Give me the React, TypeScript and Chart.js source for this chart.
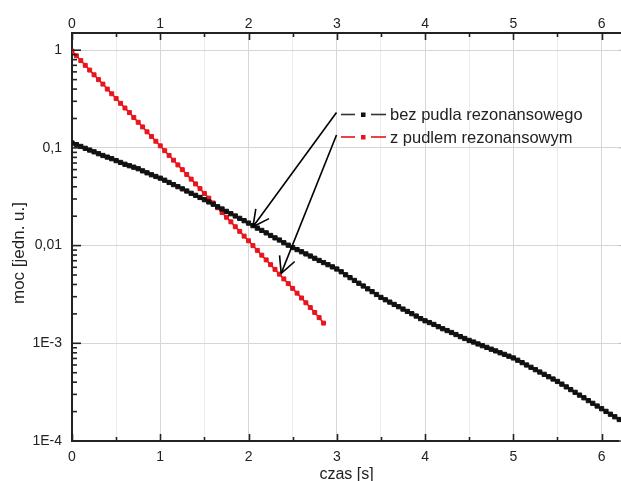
import React, { useEffect, useRef } from 'react';
import { Chart, registerables } from 'chart.js';

Chart.register(...registerables);

// ---- data ----
const timeStep = 0.05; // sampling interval [s]

// bez pudla rezonansowego (black), t = 0 .. 6.2 s
const blackValues = [
  0.1122, 0.108, 0.1035, 0.099, 0.095, 0.0912, 0.0872, 0.0836, 0.0805, 0.0775,
  0.0741, 0.071, 0.068, 0.0657, 0.0635, 0.0612, 0.0582, 0.0556, 0.0531, 0.051,
  0.049, 0.0467, 0.0443, 0.0421, 0.0401, 0.0381, 0.0362, 0.0343, 0.0327, 0.0311,
  0.0295, 0.028, 0.0265, 0.025, 0.0237, 0.0224, 0.0212, 0.0201, 0.019, 0.018,
  0.017, 0.016, 0.0151, 0.0143, 0.0135, 0.0127, 0.012, 0.0114, 0.0107, 0.0101,
  0.00955, 0.0091, 0.00865, 0.00822, 0.00782, 0.00742, 0.00705, 0.0067, 0.00638, 0.00606,
  0.00576, 0.0054, 0.00503, 0.0047, 0.0044, 0.00412, 0.00386, 0.00361, 0.00338, 0.00316,
  0.00295, 0.00279, 0.00264, 0.0025, 0.00237, 0.00224, 0.00212, 0.00201, 0.0019, 0.00179,
  0.0017, 0.00163, 0.00156, 0.00148, 0.00141, 0.00135, 0.00129, 0.00123, 0.00117, 0.00112,
  0.00107, 0.00103, 0.000985, 0.000945, 0.000908, 0.00087, 0.000836, 0.0008, 0.00077, 0.000738,
  0.000708, 0.000671, 0.000634, 0.0006, 0.000568, 0.000537, 0.000508, 0.000481, 0.000455, 0.000431,
  0.000407, 0.000382, 0.000358, 0.000336, 0.000315, 0.000295, 0.000277, 0.000259, 0.000243, 0.000228,
  0.000214, 0.000201, 0.000188, 0.000177, 0.000166,
];

// z pudlem rezonansowym (red), t = 0 .. 2.85 s
const redValues = [
  0.98, 0.876, 0.783, 0.7, 0.626, 0.56, 0.5, 0.45, 0.4, 0.358,
  0.32, 0.286, 0.256, 0.23, 0.205, 0.183, 0.164, 0.146, 0.131, 0.117,
  0.105, 0.0937, 0.0838, 0.0749, 0.067, 0.0599, 0.0535, 0.0479, 0.0428, 0.0383,
  0.0342, 0.0306, 0.0273, 0.0244, 0.0218, 0.0195, 0.0175, 0.0156, 0.014, 0.0125,
  0.0112, 0.01, 0.00893, 0.00798, 0.00714, 0.00638, 0.00571, 0.0051, 0.00456, 0.00408,
  0.00365, 0.00326, 0.00291, 0.0026, 0.00232, 0.00207, 0.00183, 0.00161,
];

const seriesNames = ['bez pudla rezonansowego', 'z pudlem rezonansowym'];
const seriesColors = ['#111111', '#e8141c'];

const xMin = 0;
const xMax = 6.22; // visible part of the axis (picture is cropped on the right)
const xFrameMax = 6.3; // where the (cropped) right frame of the plot lies
const xGridValues = [0, 0.5, 1, 1.5, 2, 2.5, 3, 3.5, 4, 4.5, 5, 5.5, 6];
const yMin = 1e-4;
const yMax = 1.5;
const yTickValues = [1, 0.1, 0.01, 1e-3, 1e-4];
const yTickLabels = ['1', '0,1', '0,01', '1E-3', '1E-4'];
const yMinorMult = [2, 3, 4, 5, 6, 7, 8, 9];

const xTitle = 'czas [s]';
const yTitle = 'moc [jedn. u.]';

// annotation arrows: tip positions in data coordinates
const arrowTips = [
  { x: 2.05, y: 0.0156 },
  { x: 2.37, y: 0.0052 },
];

const FONT = "'Liberation Sans', Arial, Helvetica, sans-serif";
const isInt = (v: number) => Math.abs(v - Math.round(v)) < 1e-9;
const isDecade = (v: number) => {
  const l = Math.log10(v);
  return Math.abs(l - Math.round(l)) < 1e-6;
};

const decorPlugin = {
  id: 'decor',
  afterDraw(chart: any) {
    const { ctx, chartArea: a, scales } = chart;
    const xs = scales.x;
    const ys = scales.y;
    const line = (x1: number, y1: number, x2: number, y2: number) => {
      ctx.beginPath();
      ctx.moveTo(x1, y1);
      ctx.lineTo(x2, y2);
      ctx.stroke();
    };
    ctx.save();
    ctx.strokeStyle = '#222';
    ctx.lineWidth = 1.6;
    // x ticks (inward), bottom & top
    for (const v of xGridValues) {
      const px = Math.round(xs.getPixelForValue(v)) + 0.5;
      const len = isInt(v) ? 7 : 4;
      line(px, a.bottom, px, a.bottom - len);
      line(px, a.top, px, a.top + len);
    }
    // y ticks (inward), left & (cropped) right frame
    const rightFrame = xs.getPixelForValue(xFrameMax);
    ctx.save();
    ctx.strokeStyle = '#bbb';
    ctx.lineWidth = 1;
    for (let e = -4; e <= 0; e++) {
      const py = ys.getPixelForValue(Math.pow(10, e));
      line(rightFrame, py, rightFrame - 9, py);
    }
    ctx.restore();
    for (let e = -4; e <= 0; e++) {
      const d = Math.pow(10, e);
      const py = ys.getPixelForValue(d);
      line(a.left, py, a.left + 9, py);
      if (e < 0) {
        for (const m of yMinorMult) {
          const v = m * d;
          if (v > yMax) continue;
          const p = ys.getPixelForValue(v);
          line(a.left, p, a.left + 5, p);
        }
      }
    }

    // y title
    ctx.fillStyle = '#222';
    ctx.font = `17px ${FONT}`;
    ctx.textAlign = 'center';
    ctx.textBaseline = 'middle';
    ctx.save();
    ctx.translate(a.left - 53, (a.top + a.bottom) / 2 + 16);
    ctx.rotate(-Math.PI / 2);
    ctx.fillText(yTitle, 0, 0);
    ctx.restore();

    // legend
    const lx = 341;
    const rows = [114.5, 137];
    ctx.font = `16.5px ${FONT}`;
    ctx.textAlign = 'left';
    seriesNames.forEach((name, i) => {
      const y = rows[i];
      ctx.strokeStyle = i === 0 ? '#333' : seriesColors[1];
      ctx.lineWidth = 1.6;
      line(lx, y, lx + 14, y);
      line(lx + 30, y, lx + 45, y);
      ctx.fillStyle = seriesColors[i];
      ctx.fillRect(lx + 20, y - 2, 4.5, 4.5);
      ctx.fillStyle = '#222';
      ctx.fillText(name, lx + 49, y + 1);
    });

    // arrows
    ctx.strokeStyle = '#000';
    ctx.lineWidth = 1.6;
    arrowTips.forEach((t, i) => {
      const sx = lx - 4.5;
      const sy = rows[i] - 2;
      const tx = xs.getPixelForValue(t.x);
      const ty = ys.getPixelForValue(t.y);
      line(sx, sy, tx, ty);
      const ang = Math.atan2(sy - ty, sx - tx);
      const L = 18;
      const h = (27 * Math.PI) / 180;
      line(tx, ty, tx + L * Math.cos(ang + h), ty + L * Math.sin(ang + h));
      line(tx, ty, tx + L * Math.cos(ang - h), ty + L * Math.sin(ang - h));
    });
    ctx.restore();
  },
};

export default function App() {
  const ref = useRef<HTMLCanvasElement | null>(null);

  useEffect(() => {
    document.body.style.margin = '0';
    const canvas = ref.current;
    if (!canvas) return;
    Chart.defaults.font.family = FONT;

    const blackPoints = blackValues.map((v, i) => ({ x: +(i * timeStep).toFixed(2), y: v }));
    const redPoints = redValues.map((v, i) => ({ x: +(i * timeStep).toFixed(2), y: v }));

    const xTicksCommon = {
      callback: (v: any) => (isInt(Number(v)) ? String(Number(v)) : ''),
      color: '#222',
      font: { size: 14 },
      maxRotation: 0,
      autoSkip: false,
    };

    const chart = new Chart(canvas, {
      type: 'line',
      data: {
        datasets: [
          {
            label: seriesNames[0],
            data: blackPoints,
            borderColor: seriesColors[0],
            backgroundColor: seriesColors[0],
            borderWidth: 1.6,
            pointStyle: 'rect',
            pointRadius: 3,
            pointBorderWidth: 1,
            pointBorderColor: seriesColors[0],
            tension: 0,
          },
          {
            label: seriesNames[1],
            data: redPoints,
            borderColor: seriesColors[1],
            backgroundColor: seriesColors[1],
            borderWidth: 1.5,
            pointStyle: 'rect',
            pointRadius: 2.8,
            pointBorderWidth: 1,
            pointBorderColor: seriesColors[1],
            tension: 0,
          },
        ],
      },
      options: {
        responsive: false,
        animation: false,
        events: [],
        layout: { autoPadding: false, padding: 0 },
        plugins: {
          legend: { display: false },
          tooltip: { enabled: false },
          title: { display: false },
        },
        scales: {
          x: {
            type: 'linear',
            position: 'bottom',
            min: xMin,
            max: xMax,
            afterBuildTicks: (s: any) => {
              s.ticks = xGridValues.map((v) => ({ value: v }));
            },
            afterFit: (s: any) => {
              s.height = 40;
              s.paddingLeft = 0;
              s.paddingRight = 0;
            },
            ticks: { ...xTicksCommon, padding: 8 },
            grid: {
              drawTicks: false,
              lineWidth: 1,
              color: (c: any) => (isInt(c.tick?.value ?? 0) ? '#d6d6d6' : '#ebebeb'),
            },
            border: { color: '#222', width: 2 },
            title: {
              display: true,
              text: xTitle,
              color: '#222',
              font: { size: 16 },
              padding: { top: 0, bottom: -3 },
            },
          },
          x2: {
            type: 'linear',
            position: 'top',
            min: xMin,
            max: xMax,
            afterBuildTicks: (s: any) => {
              s.ticks = xGridValues.map((v) => ({ value: v }));
            },
            afterFit: (s: any) => {
              s.height = 33;
              s.paddingLeft = 0;
              s.paddingRight = 0;
            },
            ticks: { ...xTicksCommon, padding: 0 },
            grid: { display: false, drawTicks: false },
            border: { color: '#222', width: 2 },
          },
          y: {
            type: 'logarithmic',
            position: 'left',
            min: yMin,
            max: yMax,
            afterBuildTicks: (s: any) => {
              s.ticks = yTickValues.slice().reverse().map((v) => ({ value: v }));
            },
            afterFit: (s: any) => {
              s.width = 72;
              s.paddingTop = 0;
              s.paddingBottom = 0;
            },
            ticks: {
              callback: (v: any) => {
                const n = Number(v);
                const i = yTickValues.findIndex((t) => Math.abs(t - n) / t < 1e-6);
                return i >= 0 ? yTickLabels[i] : '';
              },
              color: '#222',
              font: { size: 14 },
              padding: 10,
              autoSkip: false,
            },
            grid: {
              drawTicks: false,
              lineWidth: 1,
              color: (c: any) => (c.tick && isDecade(c.tick.value) ? '#d6d6d6' : 'rgba(0,0,0,0)'),
            },
            border: { color: '#222', width: 2 },
          },
        },
      },
      plugins: [decorPlugin],
    } as any);

    return () => chart.destroy();
  }, []);

  return (
    <div style={{ width: 621, height: 481, background: '#fff' }}>
      <canvas ref={ref} width={621} height={481} style={{ display: 'block' }} />
    </div>
  );
}
